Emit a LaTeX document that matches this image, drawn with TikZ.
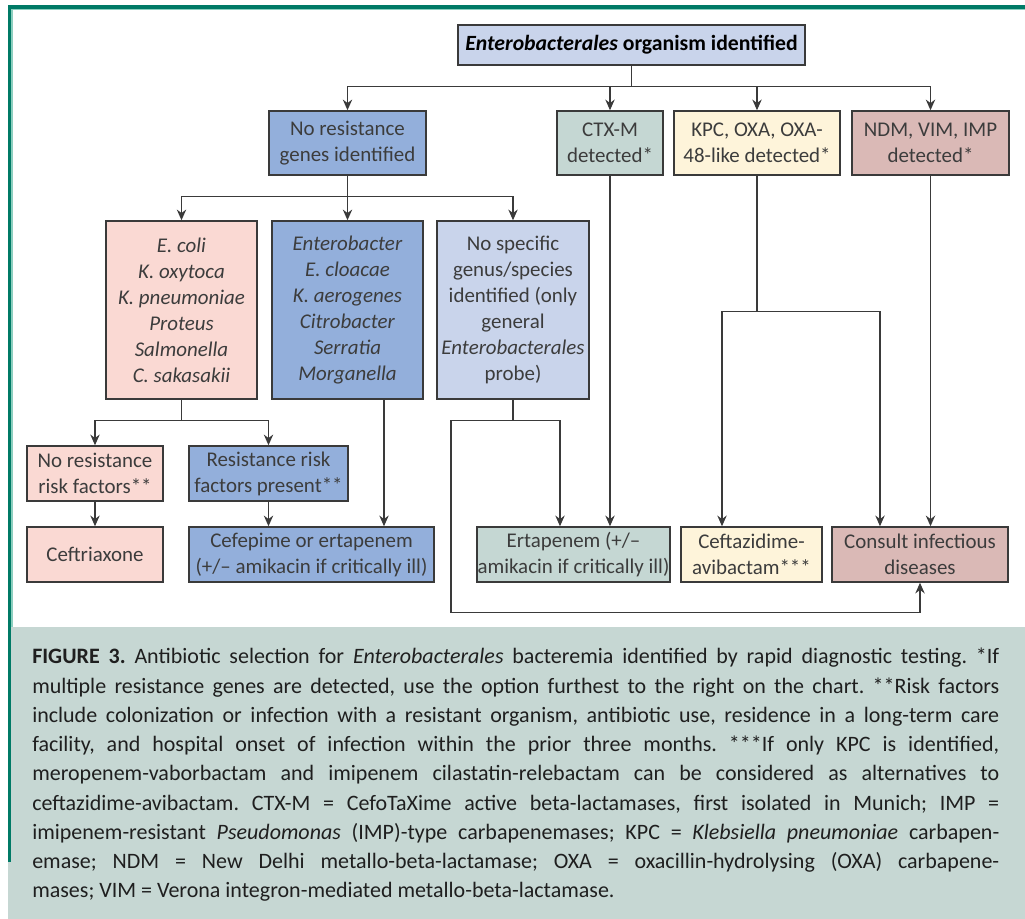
\documentclass[tikz,border=0pt]{standalone}
\usepackage{fontspec}
\setmainfont{Carlito}
\usetikzlibrary{arrows.meta, calc}
\definecolor{frameTeal}{HTML}{007A66}
\definecolor{frameLight}{HTML}{8CCFBF}
\definecolor{capBg}{HTML}{C6D7D3}
\definecolor{lavBlue}{HTML}{C9D4EB}
\definecolor{midBlue}{HTML}{93AFDB}
\definecolor{sage}{HTML}{C5D7D3}
\definecolor{cream}{HTML}{FEF4DA}
\definecolor{rose}{HTML}{DAB9B6}
\definecolor{blush}{HTML}{FAD9D3}
\definecolor{boxLine}{HTML}{3A3A3A}
\definecolor{boxText}{HTML}{3C3C3C}
\tikzstyle{box}=[rectangle, draw=boxLine, line width=1.1pt, inner sep=0pt, align=center, text=boxText, font=\fontsize{15.7}{19.5}\selectfont]
\tikzstyle{link}=[draw=boxLine, line width=1pt]
\tikzstyle{arr}=[link, -{Stealth[length=8pt, width=7pt]}]
\tikzset{wh/.style 2 args={minimum width=#1*0.75pt, minimum height=#2*0.75pt}}

\begin{document}
\begin{tikzpicture}[x=0.75pt, y=-0.75pt]
	\useasboundingbox (0,0) rectangle (1025,919);

	% Frame and caption panel
	\fill[capBg] (8,627) rectangle (1025,919);
	\fill[frameTeal] (8,5) rectangle (1025,9);
	\fill[frameLight] (11,9) rectangle (1025,10.5);
	\fill[frameTeal] (8,5) rectangle (11,862);
	\fill[frameLight] (11,9) rectangle (12.5,627);

	% Organism and resistance genes
	\node[box, fill=lavBlue, wh={347}{40}, text=black, font=\fontsize{16.3}{19.5}\selectfont\bfseries] (org) at (631.5,45) {\textit{Enterobacterales} organism identified};

	\node[box, fill=midBlue, wh={157}{64}] (nores) at (347.5,143) {No resistance\\genes identified};
	\node[box, fill=sage,    wh={106}{64}] (ctxm)  at (610,143)   {CTX-M\\detected*};
	\node[box, fill=cream,   wh={166}{64}] (kpc)   at (757,143)   {KPC, OXA, OXA-\\48-like detected*};
	\node[box, fill=rose,    wh={157}{64}] (ndm)   at (930.5,143) {NDM, VIM, IMP\\detected*};

	% Genus / species
	\node[box, fill=blush,   wh={151}{178}] (ecoli)  at (181.5,310) {\textit{E. coli}\\\textit{K. oxytoca}\\\textit{K. pneumoniae}\\\textit{Proteus}\\\textit{Salmonella}\\\textit{C. sakasakii}};
	\node[box, fill=midBlue, wh={151}{178}] (entb)   at (347.5,310) {\textit{Enterobacter}\\\textit{E. cloacae}\\\textit{K. aerogenes}\\\textit{Citrobacter}\\\textit{Serratia}\\\textit{Morganella}};
	\node[box, fill=lavBlue, wh={152}{178}] (nospec) at (513,310)   {No specific\\genus/species\\identified (only\\general\\\textit{Enterobacterales}\\probe)};

	% Risk factors
	\node[box, fill=blush,   wh={136}{55}] (norisk) at (95,473.5)    {No resistance\\risk factors**};
	\node[box, fill=midBlue, wh={159}{55}] (risk)   at (268.5,473.5) {Resistance risk\\factors present**};

	% Therapy
	\node[box, fill=blush,   wh={136}{55}] (ceftri)  at (95,554.5)    {Ceftriaxone};
	\node[box, fill=midBlue, wh={245}{55}] (cefep)   at (311.5,554.5) {Cefepime or ertapenem\\(+/-- amikacin if critically ill)};
	\node[box, fill=sage,    wh={193}{55}] (ertap)   at (573.5,554.5) {Ertapenem (+/--\\amikacin if critically ill)};
	\node[box, fill=cream,   wh={141}{55}] (ceftaz)  at (751.5,554.5) {Ceftazidime-\\avibactam***};
	\node[box, fill=rose,    wh={176}{55}] (consult) at (920,554.5)   {Consult infectious\\diseases};

	% Connectors
	\foreach \t in {nores, ctxm, kpc, ndm}{
		\draw[arr] (org.south) -- ++(0,21) -| (\t.north);
	}
	\foreach \t in {ecoli, entb, nospec}{
		\draw[arr] (nores.south) -- ++(0,21) -| (\t.north);
	}
	\foreach \t in {norisk, risk}{
		\draw[arr] (ecoli.south) -- ++(0,21) -| (\t.north);
	}
	\draw[arr] (norisk) -- (ceftri);
	\draw[arr] (risk.south) -- (risk.south |- cefep.north);
	\draw[arr] ($(entb.south)+(36.5,0)$) -- ($(cefep.north)+(72.5,0)$);

	\draw[arr] (nospec.south) -- ++(0,21) -| ($(ertap.north)+(-13.5,0)$);
	\draw[arr] (nospec.south) -- ++(0,21) -- ++(-62,0) -- ++(0,192) -| (consult.south);
	\draw[arr] (ctxm.south) -- (ctxm.south |- ertap.north);

	\draw[arr] (kpc.south) -- ++(0,136) -| ($(ceftaz.north)+(-29.5,0)$);
	\draw[arr] (kpc.south) -- ++(0,136) -| ($(consult.north)+(-40,0)$);
	\draw[arr] (ndm.south) -- (ndm.south |- consult.north);

	% Caption
	\node[anchor=north west, inner sep=0pt, text width=725.25pt, align=justify, text=black!88,
		font=\fontsize{16.5}{21.94}\selectfont] (cap) at (32,648) {\frenchspacing\hyphenpenalty=10000\tolerance=10000
		\textbf{FIGURE 3.} Antibiotic selection for \textit{Enterobacterales} bacteremia identified by rapid diagnostic testing. *If\linebreak
		multiple resistance genes are detected, use the option furthest to the right on the chart. **Risk factors\linebreak
		include colonization or infection with a resistant organism, antibiotic use, residence in a long-term care\linebreak
		facility, and hospital onset of infection within the prior three months. ***If only KPC is identified,\linebreak
		meropenem-vaborbactam and imipenem cilastatin-relebactam can be considered as alternatives to\linebreak
		ceftazidime-avibactam. CTX-M = CefoTaXime active beta-lactamases, first isolated in Munich; IMP =\linebreak
		imipenem-resistant \textit{Pseudomonas} (IMP)-type carbapenemases; KPC = \textit{Klebsiella pneumoniae} carbapen-\linebreak
		emase; NDM = New Delhi metallo-beta-lactamase; OXA = oxacillin-hydrolysing (OXA) carbapene-\linebreak
		mases; VIM = Verona integron-mediated metallo-beta-lactamase.};
\end{tikzpicture}
\end{document}
